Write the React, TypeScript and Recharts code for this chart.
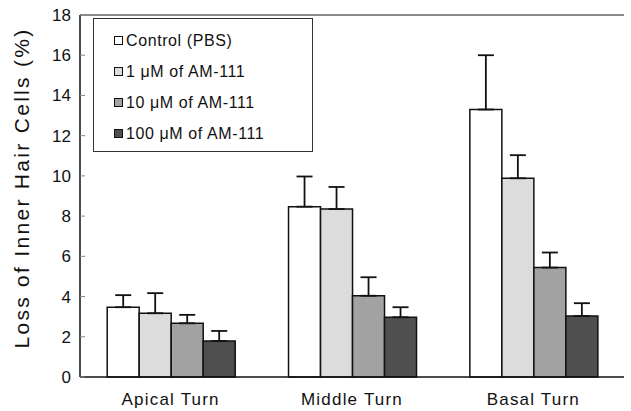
import React from 'react';
import {
  BarChart,
  Bar,
  XAxis,
  YAxis,
  ErrorBar,
  ReferenceLine,
} from 'recharts';

// Valores
const categorias = ['Apical Turn', 'Middle Turn', 'Basal Turn'];
const controle = [3.47, 8.47, 13.3];
const controleErro = [0.6, 1.5, 2.7];
const um1 = [3.17, 8.35, 9.88];
const um1Erro = [1.0, 1.1, 1.15];
const um10 = [2.67, 4.04, 5.44];
const um10Erro = [0.42, 0.92, 0.75];
const um100 = [1.79, 2.97, 3.03];
const um100Erro = [0.5, 0.5, 0.64];
const ticksY = [0, 2, 4, 6, 8, 10, 12, 14, 16, 18];

const series = [
  { key: 'c', nome: 'Control (PBS)', cor: '#ffffff' },
  { key: 'a', nome: '1 \u03bcM of AM-111', cor: '#dcdcdc' },
  { key: 'b', nome: '10 \u03bcM of AM-111', cor: '#a2a2a2' },
  { key: 'd', nome: '100 \u03bcM of AM-111', cor: '#4f4f4f' },
];

const dados = categorias.map((nome, i) => ({
  nome,
  c: controle[i],
  cErr: [0, controleErro[i]],
  a: um1[i],
  aErr: [0, um1Erro[i]],
  b: um10[i],
  bErr: [0, um10Erro[i]],
  d: um100[i],
  dErr: [0, um100Erro[i]],
}));

const fonte = '"Liberation Sans", Arial, sans-serif';

const Legenda = () => (
  <div
    style={{
      position: 'absolute',
      left: 93,
      top: 18,
      border: '1px solid #333',
      width: 220,
      height: 134,
      boxSizing: 'border-box',
      padding: '6px 0 0 20px',
      background: '#fff',
      fontFamily: fonte,
      fontSize: 16,
      letterSpacing: 0.6,
      color: '#111',
    }}
  >
    {series.map((s) => (
      <div key={s.key} style={{ display: 'flex', alignItems: 'center', height: 31 }}>
        <span
          style={{
            display: 'inline-block',
            width: 7,
            height: 7,
            border: '1.5px solid #111',
            background: s.cor,
            marginRight: 3,
          }}
        />
        {s.nome}
      </div>
    ))}
  </div>
);

export default function App() {
  return (
    <div style={{ position: 'absolute', left: 0, top: 0, width: 631, height: 411, background: '#fff' }}>
      <BarChart
        width={631}
        height={411}
        data={dados}
        margin={{ top: 15, right: 7, bottom: 0, left: 0 }}
        barCategoryGap="15%"
        barGap={0}
      >
        <XAxis
          dataKey="nome"
          height={34}
          tickLine={false}
          axisLine={{ stroke: '#111', strokeWidth: 1.5 }}
          tick={{ fill: '#111', fontSize: 17, fontFamily: fonte, letterSpacing: 1.2 }}
          tickMargin={10}
        />
        <YAxis
          width={80}
          domain={[0, 18]}
          ticks={ticksY}
          interval={0}
          tickSize={-5}
          tickMargin={14}
          tickLine={{ stroke: '#888' }}
          axisLine={{ stroke: '#111', strokeWidth: 1.5 }}
          tick={{ fill: '#111', fontSize: 17, fontFamily: fonte }}
          label={{
            value: 'Loss of Inner Hair Cells (%)',
            angle: -90,
            position: 'insideLeft',
            offset: 22,
            dx: 0,
            dy: -8,
            style: { fill: '#111', fontSize: 21, fontFamily: fonte, textAnchor: 'middle', letterSpacing: 2.3 },
          }}
        />
        <YAxis
          yAxisId="dir"
          orientation="right"
          width={0}
          domain={[0, 18]}
          tick={false}
          tickLine={false}
          axisLine={{ stroke: '#777', strokeWidth: 1.5 }}
        />
        <ReferenceLine y={18} stroke="#666" strokeWidth={1.5} />
        {series.map((s) => (
          <Bar
            key={s.key}
            dataKey={s.key}
            name={s.nome}
            fill={s.cor}
            stroke="#111"
            strokeWidth={1.5}
            isAnimationActive={false}
          >
            <ErrorBar dataKey={`${s.key}Err`} width={8} stroke="#111" strokeWidth={1.8} direction="y" />
          </Bar>
        ))}
      </BarChart>
      <Legenda />
    </div>
  );
}
